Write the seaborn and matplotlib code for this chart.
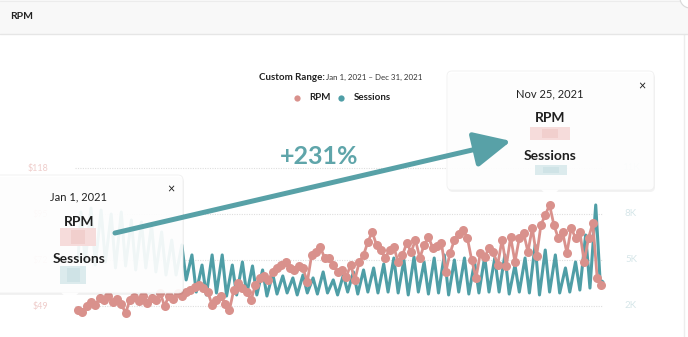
import numpy as np
import pandas as pd
import matplotlib
matplotlib.use("Agg")
import matplotlib.pyplot as plt
import seaborn as sns
from matplotlib.patches import FancyBboxPatch, Rectangle, Polygon, Circle

sns.set_theme(style="white")
plt.rcParams['font.family'] = ['Lato', 'DejaVu Sans']

# ---------------- data ----------------
# RPM sampled every 3 days (USD)
rpm_dates = pd.date_range("2021-01-01", periods=122, freq="3D")
rpm_values = [47, 46, 49, 51, 49.5, 53, 52, 54, 51, 52.5, 50, 45.5, 52, 53.5, 51.5, 54, 50.5, 53, 52, 55.5,
              49, 54, 52.5, 55.5, 54, 56, 57, 58.5, 59.5, 58, 56, 49.5, 52, 54, 50, 47, 57, 60.5, 58, 56,
              52, 59.5, 63, 64, 62, 66, 68, 69.5, 71, 68, 67, 69, 68, 61, 74.5, 76, 78.5, 73, 73, 69.5,
              66, 67, 63.5, 69.5, 62, 71, 74.5, 81, 86, 79.5, 77, 73, 77, 78.5, 71, 74.5, 80.5, 76, 82, 73,
              79.5, 83.5, 78, 79, 80.5, 66, 75.5, 82, 85, 87, 83, 72, 63, 75.5, 73.5, 78, 76, 69.5, 82, 69,
              83.5, 71, 83, 85.5, 76, 88, 74, 89.5, 94.5, 99.5, 89.5, 83, 86, 75.5, 88, 83, 86, 71, 83, 90.5,
              63, 59.5]

# Sessions: weekly peak and trough
sess_peak_dates = pd.date_range("2021-01-03", periods=52, freq="7D")
sess_peaks = [8130, 8390, 8260, 8000, 8130, 7610, 7480, 7280, 6830, 6300, 5980,
              5330, 4670, 5330, 5330, 4670, 4870, 4610, 4350, 4090, 3960,
              3830, 4020, 3830, 4220, 3700, 4020, 4220, 4350, 4480, 4740,
              5130, 5000, 5200, 4870, 5130, 5330, 5000, 5130, 4870, 5200,
              5130, 5330, 4670, 5130, 5980, 5650, 5330, 4480, 4870, 6630, 8590]
sess_trough_dates = pd.date_range("2021-01-06", periods=52, freq="7D")
sess_troughs = [4870, 4670, 4870, 4480, 4610, 4350, 4480, 4220, 4020, 4020, 3700,
                2910, 2720, 2850, 2650, 2720, 2780, 2720, 2650, 2780, 2850,
                2720, 2850, 2780, 2850, 2720, 2910, 2780, 2910, 2850, 2910,
                2850, 2720, 2910, 2780, 2850, 2720, 2910, 2780, 2850, 2910,
                2910, 2780, 2910, 2850, 2720, 2910, 2850, 2910, 3040, 3170, 3700]
sess_edge_dates = pd.to_datetime(["2021-01-01", "2021-12-31"])
sess_edges = [5000, 3570]

rpm_ticks = [118, 95, 72, 49]
rpm_tick_labels = ["$118", "$95", "$72", "$49"]
sess_ticks = [11000, 8000, 5000, 2000]
sess_tick_labels = ["11K", "8K", "5K", "2K"]

start = pd.Timestamp("2021-01-01")
rpm_df = pd.DataFrame({"day": (rpm_dates - start).days, "rpm": rpm_values})
sess_df = pd.DataFrame({
    "day": list((sess_peak_dates - start).days) + list((sess_trough_dates - start).days)
           + list((sess_edge_dates - start).days),
    "sessions": sess_peaks + sess_troughs + sess_edges,
}).sort_values("day")

TEAL = "#4f9ea6"
PINK = "#d9918c"

# ---------------- figure ----------------
W, H = 688, 337
fig = plt.figure(figsize=(W / 100, H / 100), dpi=100)
fig.patch.set_facecolor("white")


def fax(l, t, r, b):
    return [l / W, 1 - b / H, (r - l) / W, (b - t) / H]


ax = fig.add_axes(fax(70, 150, 610, 322))
ax.set_facecolor("none")
sns.lineplot(data=sess_df, x="day", y="sessions", ax=ax, color=TEAL, lw=2.2,
             legend=False, estimator=None, sort=True)
ax.set_xlim(-5.55, 368.9)
ax.set_ylim(956, 12174)
ax.hlines(sess_ticks, -2.1, 364, colors="#dedede", linestyles=(0, (1, 1.2)), lw=0.8, zorder=0)
ax.axis("off")

ax2 = ax.twinx()
sns.lineplot(data=rpm_df, x="day", y="rpm", ax=ax2, color=PINK, lw=2.0, marker="o",
             markersize=6.5, markeredgewidth=0, legend=False, estimator=None)
ax2.set_xlim(-5.55, 368.9)
ax2.set_ylim(41, 127)
ax2.axis("off")

# ---------------- overlay (pixel coords) ----------------
ov = fig.add_axes([0, 0, 1, 1])
ov.set_xlim(0, W)
ov.set_ylim(H, 0)
ov.axis("off")
ov.set_zorder(10)

# header
ov.add_patch(Rectangle((0, 0), W, 34, fc="#f8f8f8", ec="none", zorder=1))
ov.plot([0, W], [34, 34], color="#e6e6e6", lw=1, zorder=2)
ov.plot([0, W], [1, 1], color="#ececec", lw=0.8, zorder=2)
ov.text(10, 16.5, "RPM", fontsize=7.5, fontweight="bold", color="#222222", va="center", ha="left", zorder=3)
ov.plot([684, 684], [34, H], color="#ededed", lw=1, zorder=1)
ov.add_patch(Circle((690, -2), 10, fc="white", ec="#d8d8d8", lw=0.8, zorder=3))

# range + legend
ov.text(259, 77, "Custom Range:", fontsize=7, fontweight="bold", color="#222222", va="center", ha="left")
ov.text(326, 77, "Jan 1, 2021 \u2013 Dec 31, 2021", fontsize=5.7, color="#333333", va="center", ha="left")
ov.plot([297], [98], "o", color=PINK, ms=4.5, mew=0)
ov.text(309, 98, "RPM", fontsize=7, fontweight="bold", color="#222222", va="center", ha="left")
ov.plot([341], [98], "o", color=TEAL, ms=4.5, mew=0)
ov.text(354, 98, "Sessions", fontsize=7, fontweight="bold", color="#222222", va="center", ha="left")

# faint (blurred) axis labels
rpm_px = [168, 214, 260, 306]
for y, lab in zip(rpm_px, rpm_tick_labels):
    ov.text(48, y, lab, fontsize=6.5, color="#efcdcb", ha="right", va="center", zorder=1)
for y, lab in zip(rpm_px, sess_tick_labels):
    ov.text(631, y, lab, fontsize=7, color="#d6e6e9", ha="center", va="center", zorder=1)


def tooltip(x0, y0, x1, y1, px, title, pink_blob, teal_blob, xpos, ys):
    ov.add_patch(FancyBboxPatch((x0 + 1, y0 + 2), x1 - x0, y1 - y0,
                                boxstyle="round,pad=0,rounding_size=5",
                                fc="black", ec="none", alpha=0.05, zorder=4))
    ov.add_patch(FancyBboxPatch((x0, y0), x1 - x0, y1 - y0,
                                boxstyle="round,pad=0,rounding_size=5",
                                fc="white", ec="#efefef", lw=0.6, alpha=0.92, zorder=5))
    ov.add_patch(Polygon([(px - 9, y1 - 0.5), (px + 9, y1 - 0.5), (px, y1 + 8)],
                         closed=True, fc="white", ec="none", alpha=0.95, zorder=5))
    cx = xpos
    ov.text(cx, ys[0], title, fontsize=8, color="#222222", ha="center", va="center", zorder=6)
    ov.text(cx, ys[1], "RPM", fontsize=10, fontweight="bold", color="#1f1f1f", ha="center", va="center", zorder=6)
    ov.text(cx, ys[3], "Sessions", fontsize=10, fontweight="bold", color="#1f1f1f", ha="center", va="center", zorder=6)
    bx, by, bw, bh = pink_blob
    ov.add_patch(Rectangle((bx, by), bw, bh, fc="#f6dcdb", ec="none", zorder=6))
    ov.add_patch(Rectangle((bx + bw * 0.3, by + 2), bw * 0.4, bh - 4, fc="#f1cfcd", ec="none", zorder=6))
    bx, by, bw, bh = teal_blob
    ov.add_patch(Rectangle((bx, by), bw, bh, fc="#dcebed", ec="none", zorder=6))
    ov.add_patch(Rectangle((bx + bw * 0.25, by + 2), bw * 0.5, bh - 4, fc="#cfe3e6", ec="none", zorder=6))


tooltip(-10, 175, 183, 293, 70, "Jan 1, 2021", (60, 228, 36, 18), (60, 266, 26, 18), 79,
        (197, 222, 0, 259))
ov.text(171, 189, "\u00d7", fontsize=9, color="#222222", ha="center", va="center", zorder=6)
tooltip(447, 71, 654, 190, 550, "Nov 25, 2021", (530, 127, 40, 13), (535, 165, 32, 10), 550,
        (94, 118, 0, 156))
ov.text(642, 86, "\u00d7", fontsize=9, color="#222222", ha="center", va="center", zorder=6)

# arrow and annotation
ov.annotate("", xy=(511, 141), xytext=(115, 233),
            arrowprops=dict(arrowstyle="-|>,head_length=1.25,head_width=0.6", lw=3.6,
                            color="#58a1a7", mutation_scale=18, shrinkA=0, shrinkB=0),
            zorder=8)
ov.text(319, 157, "+231%", fontsize=18, fontweight="bold", color="#5fa5aa", ha="center", va="center", zorder=8)

fig.savefig("out.png", dpi=100)
